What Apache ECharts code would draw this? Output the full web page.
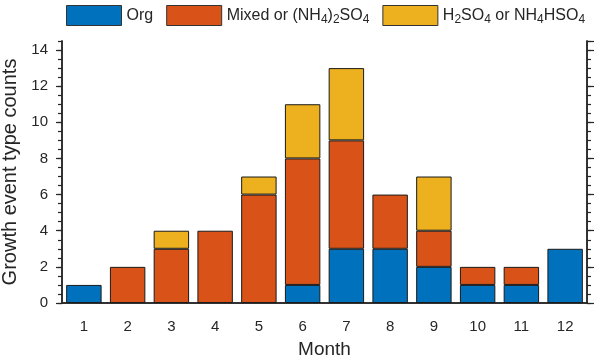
<!DOCTYPE html>
<html><head><meta charset="utf-8">
<script src="https://cdn.jsdelivr.net/npm/echarts@6/dist/echarts.min.js"></script>
<style>html,body{margin:0;padding:0;background:#fff}#c{width:600px;height:362px}</style>
</head><body><div id="c"></div>
<script>
const months = ['1','2','3','4','5','6','7','8','9','10','11','12'];
const orgCounts   = [1,0,0,0,0,1,3,3,2,1,1,3];
const mixedCounts = [0,2,3,4,6,7,6,3,2,1,1,0];
const acidCounts  = [0,0,1,0,1,3,4,0,3,0,0,0];
const seriesNames = ['Org', 'Mixed or (NH4)2SO4', 'H2SO4 or NH4HSO4'];
const yTickLabels = [0,2,4,6,8,10,12,14];

const FONT = 'Liberation Sans, Arial, Helvetica, sans-serif';
const AX = '#262626';
const colors = ['#0072BD','#D95319','#EDB120'];
const legendRich = {
  n:{fontFamily:FONT,fontSize:16,color:'#262626'},
  s:{fontFamily:FONT,fontSize:12,color:'#262626',verticalAlign:'bottom',padding:[9,0,0,0]}
};
const legendText = {
  'Org':'{n|Org}',
  'Mixed or (NH4)2SO4':'{n|Mixed or (NH}{s|4}{n|)}{s|2}{n|SO}{s|4}',
  'H2SO4 or NH4HSO4':'{n|H}{s|2}{n|SO}{s|4}{n| or NH}{s|4}{n|HSO}{s|4}'
};
const nz = a => a.map(v => v === 0 ? null : v);
const dataSets = [orgCounts, mixedCounts, acidCounts];

function yAx(pos, interval, len, labels){
  return {
    type:'value', position:pos, min:0, max:14.5, interval:interval,
    splitLine:{show:false},
    axisLine:{show:true, lineStyle:{color:AX,width:1.5}},
    axisTick:{show:true, length:len, lineStyle:{color:AX,width:1.2}},
    axisLabel:{show:labels, fontFamily:FONT, fontSize:15, color:AX, margin:14,
      showMaxLabel:false,
      formatter: v => yTickLabels.indexOf(v) >= 0 ? String(v) : ''},
    name: labels ? 'Growth event type counts' : '',
    nameLocation:'middle', nameGap:37, nameRotate:90,
    nameTextStyle:{fontFamily:FONT,fontSize:20,color:AX}
  };
}

const option = {
  animation:false,
  backgroundColor:'#fff',
  legend:{
    left:66, top:5, padding:0, itemWidth:55, itemHeight:20, itemGap:13,
    icon:'rect',
    itemStyle:{borderColor:'#333',borderWidth:1},
    textStyle:{rich:legendRich},
    formatter: name => legendText[name],
    data: seriesNames
  },
  grid:{left:62, right:13, top:41, bottom:59, containLabel:false, outerBoundsMode:'none'},
  xAxis:[
    {type:'category', data:months, position:'bottom', boundaryGap:true,
     axisLine:{lineStyle:{color:AX,width:1.5}},
     axisTick:{alignWithLabel:true, length:8, lineStyle:{color:AX,width:1.2}},
     axisLabel:{fontFamily:FONT,fontSize:15,color:AX,margin:16},
     name:'Month', nameLocation:'middle', nameGap:37,
     nameTextStyle:{fontFamily:FONT,fontSize:19,color:AX}},
    {type:'category', data:months, position:'top', boundaryGap:true,
     axisLine:{lineStyle:{color:AX,width:1.5}},
     axisTick:{alignWithLabel:true, length:8, lineStyle:{color:AX,width:1.2}},
     axisLabel:{show:false}}
  ],
  yAxis:[
    yAx('left', 2, 6, true),
    yAx('left', 0.5, 4, false),
    yAx('right', 2, 7, false),
    yAx('right', 0.5, 4, false)
  ],
  series: seriesNames.map((n,i)=>({
    name:n, type:'bar', stack:'total', barWidth:'81%',
    xAxisIndex:0, yAxisIndex:0,
    itemStyle:{color:colors[i], borderColor:'#1a1a1a', borderWidth:1},
    data: nz(dataSets[i])
  }))
};
echarts.init(document.getElementById('c'),null,{renderer:'canvas'}).setOption(option);
</script></body></html>
